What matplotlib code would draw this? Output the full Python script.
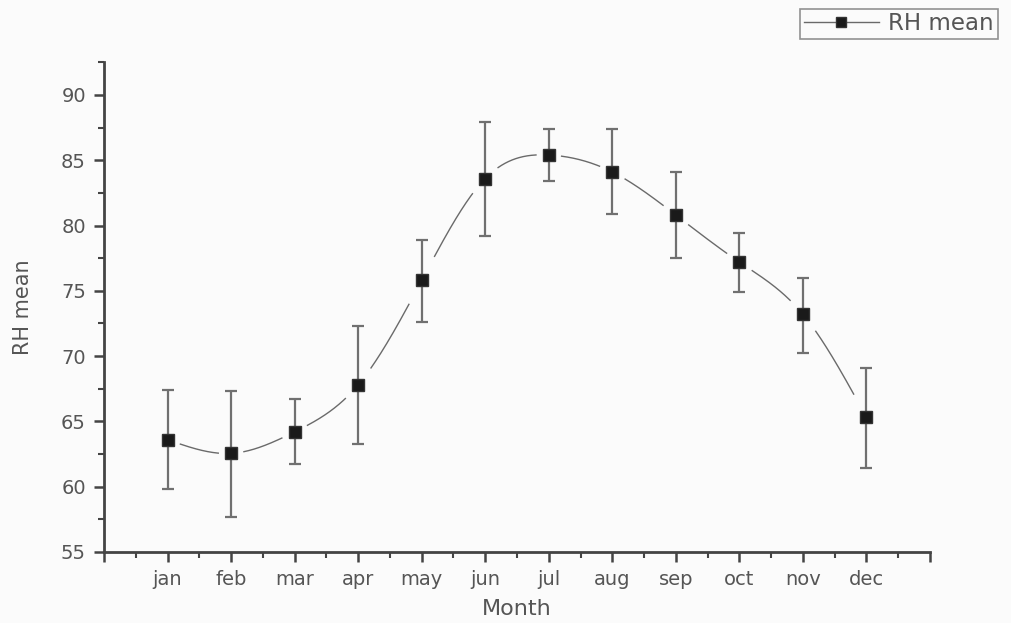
import numpy as np
import matplotlib.pyplot as plt

plt.rcParams['font.family'] = ['DejaVu Sans']

months = ['jan', 'feb', 'mar', 'apr', 'may', 'jun', 'jul', 'aug', 'sep', 'oct', 'nov', 'dec']
rh_mean = [63.6, 62.55, 64.2, 67.8, 75.8, 83.6, 85.4, 84.1, 80.8, 77.2, 73.2, 65.3]
err_low = [59.8, 57.7, 61.7, 63.3, 72.6, 79.2, 83.4, 80.9, 77.5, 74.9, 70.25, 61.4]
err_high = [67.4, 67.3, 66.75, 72.3, 78.9, 87.9, 87.4, 87.4, 84.1, 79.4, 76.0, 69.1]

x = np.arange(1, len(months) + 1)
y = np.array(rh_mean)
lo = y - np.array(err_low)
hi = np.array(err_high) - y


def natural_spline(xk, yk, xs):
    # plain natural cubic spline, only used to draw the smooth connecting line
    n = len(xk)
    h = np.diff(xk)
    A = np.zeros((n, n))
    b = np.zeros(n)
    A[0, 0] = A[-1, -1] = 1
    for i in range(1, n - 1):
        A[i, i - 1] = h[i - 1]
        A[i, i] = 2 * (h[i - 1] + h[i])
        A[i, i + 1] = h[i]
        b[i] = 6 * ((yk[i + 1] - yk[i]) / h[i] - (yk[i] - yk[i - 1]) / h[i - 1])
    m = np.linalg.solve(A, b)
    idx = np.clip(np.searchsorted(xk, xs) - 1, 0, n - 2)
    x0, x1 = xk[idx], xk[idx + 1]
    hh = x1 - x0
    t0, t1 = x1 - xs, xs - x0
    return (m[idx] * t0**3 / (6 * hh) + m[idx + 1] * t1**3 / (6 * hh)
            + (yk[idx] / hh - m[idx] * hh / 6) * t0
            + (yk[idx + 1] / hh - m[idx + 1] * hh / 6) * t1)


xs = np.linspace(x[0], x[-1], 1200)
ys = natural_spline(x.astype(float), y, xs)
# leave a small gap round each marker, like the original
ys_gap = ys.copy()
for xi in x:
    ys_gap[np.abs(xs - xi) < 0.2] = np.nan

fig = plt.figure(figsize=(10.12, 6.23), dpi=100, facecolor='#fbfbfb')
ax = fig.add_axes([0.1028, 0.114, 0.8162, 0.786])
ax.set_facecolor('#fbfbfb')

grey = '#555555'
ax.plot(xs, ys_gap, color='#6a6a6a', lw=1.0, zorder=2)
ax.errorbar(x, y, yerr=[lo, hi], fmt='none', ecolor='#707070', elinewidth=1.6,
            capsize=4, capthick=1.6, zorder=3)
ax.plot(x, y, ls='none', marker='s', ms=8.5, mfc='#1a1a1a', mec='#333333', zorder=4)

ax.set_xlim(0, 13)
ax.set_ylim(55, 92.5)
ax.set_xticks(np.arange(0, 14))
ax.set_xticklabels([''] + months + [''])
ax.set_xticks(np.arange(0.5, 13.01, 1.0), minor=True)
ax.set_yticks(np.arange(55, 91, 5))
ax.set_yticks(np.arange(57.5, 92.6, 5), minor=True)

for s in ['top', 'right']:
    ax.spines[s].set_visible(False)
for s in ['left', 'bottom']:
    ax.spines[s].set_color('#444444')
    ax.spines[s].set_linewidth(2.0)

ax.tick_params(which='major', direction='out', length=7, width=1.8, color='#444444',
               labelcolor=grey, labelsize=14, pad=6)
ax.tick_params(which='minor', direction='out', length=4, width=1.5, color='#444444')

ax.set_xlabel('Month', fontsize=16, color=grey, labelpad=7)
ax.set_ylabel('RH mean', fontsize=15, color=grey, labelpad=20)

leg_handle = plt.Line2D([], [], color='#6a6a6a', lw=1.0, marker='s', ms=7,
                        mfc='#1a1a1a', mec='#333333')
leg = fig.legend([leg_handle], ['RH mean'], loc='upper right',
                 bbox_to_anchor=(0.997, 1.004), frameon=True, fancybox=False,
                 fontsize=16.5, handlelength=3.3, borderpad=0.15, handletextpad=0.4,
                 labelcolor=grey)
leg.get_frame().set_edgecolor('#777777')
leg.get_frame().set_linewidth(1.2)
leg.get_frame().set_facecolor('#fbfbfb')

fig.savefig('out.png', dpi=100, facecolor=fig.get_facecolor())
